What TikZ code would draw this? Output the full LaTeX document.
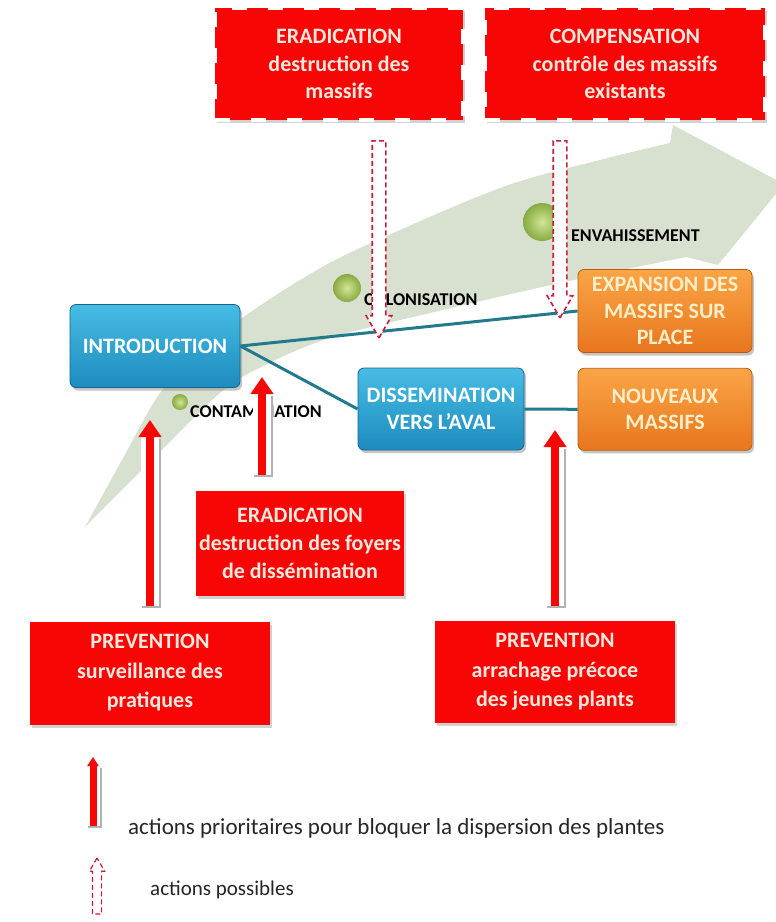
\documentclass[tikz,border=0pt]{standalone}
\usepackage{fontspec}
\setmainfont{Carlito}
\usepackage{tikz}
\usetikzlibrary{positioning,arrows.meta,shapes.arrows,shadows}
\usepackage{xcolor}
\definecolor{swoosh}{RGB}{216,224,207}
\definecolor{boxred}{RGB}{248,6,6}
\definecolor{boxtext}{RGB}{255,232,220}
\definecolor{dashred}{RGB}{200,30,55}
\definecolor{stagetop}{RGB}{70,188,228}
\definecolor{stagebot}{RGB}{30,140,190}
\definecolor{stageline}{RGB}{22,100,140}
\definecolor{restop}{RGB}{250,165,70}
\definecolor{resbot}{RGB}{232,118,30}
\definecolor{resline}{RGB}{185,90,20}
\definecolor{restext}{RGB}{255,238,200}
\definecolor{linkteal}{RGB}{35,122,140}
\definecolor{dotlight}{RGB}{210,230,150}
\definecolor{dotdark}{RGB}{135,170,65}

\begin{document}
\begin{tikzpicture}[
  x=1pt, y=-1pt,
  possbox/.style={fill=boxred, draw=white, line width=4pt, dash pattern=on 15pt off 21pt, align=center, text=boxtext, font=\bfseries\fontsize{22}{27.5}\selectfont, drop shadow={shadow xshift=2pt, shadow yshift=-3pt, fill=black!35}},
  priobox/.style={fill=boxred, align=center, text=boxtext, font=\bfseries\fontsize{22}{28}\selectfont, drop shadow={shadow xshift=2pt, shadow yshift=-3pt, fill=black!35}},
  stage/.style={rounded corners=6pt, draw=stageline, line width=0.8pt, top color=stagetop, bottom color=stagebot, text=white, align=center, font=\bfseries\fontsize{22}{26.5}\selectfont, drop shadow={shadow xshift=2pt, shadow yshift=-3pt, fill=black!45}},
  result/.style={rounded corners=6pt, draw=resline, line width=0.8pt, top color=restop, bottom color=resbot, text=restext, align=center, font=\bfseries\fontsize{22}{26.5}\selectfont, drop shadow={shadow xshift=2pt, shadow yshift=-3pt, fill=black!45}},
  link/.style={draw=linkteal, line width=3pt},
  dot/.style={circle, inner sep=0pt, inner color=dotlight, outer color=dotdark},
  phase/.style={anchor=west, inner sep=0pt, font=\bfseries\fontsize{18}{20}\selectfont},
  prio/.style={draw=boxred, line width=8pt, -{Triangle[length=17pt, width=22pt]}, shorten <=15pt,
    preaction={draw=black!30, line width=19pt, -, shorten >=17pt, transform canvas={xshift=1.5pt, yshift=-2pt}},
    preaction={draw=white, line width=18pt, -, shorten >=17pt}},
  prioleg/.style={draw=boxred, line width=7pt, -{Triangle[length=9pt, width=11pt]},
    preaction={draw=black!30, line width=14pt, -, shorten >=9pt, transform canvas={xshift=1.5pt, yshift=-2pt}},
    preaction={draw=white, line width=13pt, -, shorten >=9pt}},
  possible/.style={single arrow, draw=dashred, dash pattern=on 5pt off 3pt, line width=1.6pt, fill=white, inner xsep=0pt, inner ysep=6pt, single arrow head extend=6pt, single arrow tip angle=60},
  legend/.style={anchor=west, inner sep=0pt, text=black!85, font=\fontsize{23}{25}\selectfont},
]
\useasboundingbox (0,0) rectangle (776,922);

\fill[swoosh] plot[smooth, tension=0.55] coordinates {(85,527) (122,460) (160,393) (200,350) (242,318) (300,280) (360,248) (500,188) (600,160) (670,143)}
  -- (673,125) -- (784,184) -- (718,265) -- (686,257)
  -- plot[smooth, tension=0.55] coordinates {(686,257) (560,283) (430,313) (330,338) (265,365) (220,393) (152,460) (85,527)} -- cycle;

\node[dot, minimum size=16pt] (dotcont) at (180,402) {};
\node[dot, minimum size=28pt] (dotcolo) at (347,288) {};
\node[dot, minimum size=38pt] (dotenva) at (542,222) {};
\node[phase] (cont) at (190,412) {CONTAMINATION};
\node[phase] (colo) at (364,300) {COLONISATION};
\node[phase] (enva) at (571,236) {ENVAHISSEMENT};

\node[possbox, minimum width=248pt, minimum height=112pt] (eradA) at (339,64) {ERADICATION\\destruction des\\massifs};
\node[possbox, minimum width=280pt, minimum height=112pt] (compB) at (625,64) {COMPENSATION\\contrôle des massifs\\existants};

\node[stage, minimum width=170pt, minimum height=83pt] (intro) at (155,346) {INTRODUCTION};
\node[stage, minimum width=166pt, minimum height=82pt] (dissem) at (441,409) {DISSEMINATION\\VERS L'AVAL};
\node[result, minimum width=174pt, minimum height=83pt] (expan) at (665,311) {EXPANSION DES\\MASSIFS SUR\\PLACE};
\node[result, minimum width=174pt, minimum height=82pt, below=15pt of expan] (nouv) {NOUVEAUX\\MASSIFS};

\draw[link] (intro.east) -- (expan.west);
\draw[link] (intro.east) -- (dissem.west);
\draw[link] (dissem.east) -- (nouv.west);

\node[priobox, minimum width=200pt, minimum height=105pt] (eradF) at (300,543) {ERADICATION\\destruction des foyers\\de dissémination};
\node[priobox, minimum width=240pt, minimum height=103pt, font=\bfseries\fontsize{22}{29.5}\selectfont] (prevL) at (150,673) {PREVENTION\\surveillance des\\pratiques};
\node[priobox, minimum width=240pt, minimum height=102pt, font=\bfseries\fontsize{22}{29.5}\selectfont] (prevR) at (555,672) {PREVENTION\\arrachage précoce\\des jeunes plants};

\node[possible, minimum height=197pt, rotate=-90] (posA) at (379,233.5) {};
\node[possible, minimum height=177pt, rotate=-90] (posB) at (560,223.5) {};

\coordinate (tipL) at (150,420);
\coordinate (tipF) at (262,377);
\coordinate (tipR) at (555,430);
\draw[prio] (prevL.north) -- (tipL);
\draw[prio] (tipF |- eradF.north) -- (tipF);
\draw[prio] (prevR.north) -- (tipR);

\coordinate (legfoot) at (93,826);
\coordinate (legtip) at (93,757);
\draw[prioleg] (legfoot) -- (legtip);
\node[legend] (legprio) at (128,828) {actions prioritaires pour bloquer la dispersion des plantes};
\node[possible, minimum height=56pt, inner ysep=4pt, single arrow head extend=3pt, line width=1.2pt, rotate=90] (legposs) at (97,890) {};
\node[legend, font=\fontsize{21}{25}\selectfont] (legpossible) at (150,890) {actions possibles};
\end{tikzpicture}
\end{document}
